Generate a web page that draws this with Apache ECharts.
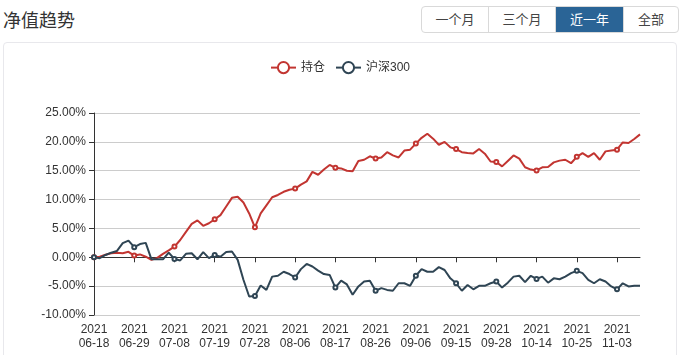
<!DOCTYPE html>
<html>
<head>
<meta charset="utf-8">
<script src="https://cdn.jsdelivr.net/npm/echarts@6/dist/echarts.min.js"></script>
<style>
  html, body { margin: 0; padding: 0; background: #fff; width: 685px; height: 355px; overflow: hidden;
    font-family: "Liberation Sans", "Noto Sans CJK SC", sans-serif; }
  #title { position: absolute; left: 3px; top: 9px; font-size: 18px; color: #333; line-height: 24px; }
  #btns { position: absolute; left: 421px; top: 6px; height: 27px; display: flex; border: 1px solid #d9d9d9; border-radius: 4px; overflow: hidden; box-sizing: border-box; }
  #btns div { height: 25px; line-height: 25px; text-align: center; font-size: 13px; color: #444; border-right: 1px solid #d9d9d9; box-sizing: border-box; }
  #btns div:last-child { border-right: none; }
  #btns div.active { background: #2a6496; color: #fff; }
  #panel { position: absolute; left: 3px; top: 42px; width: 674px; height: 340px; border: 1px solid #e8e8ec; border-radius: 4px; box-sizing: border-box; }
  #chart { position: absolute; left: 0px; top: 0px; width: 672px; height: 312px; }
</style>
</head>
<body>
<div id="title">净值趋势</div>
<div id="btns">
  <div style="width:67px">一个月</div>
  <div style="width:67px">三个月</div>
  <div class="active" style="width:68px">近一年</div>
  <div style="width:54px;border-right:none">全部</div>
</div>
<div id="panel"><div id="chart"></div></div>
<script>
const dates = [
  '2021-06-18','2021-06-21','2021-06-22','2021-06-23','2021-06-24','2021-06-25','2021-06-28','2021-06-29','2021-06-30',
  '2021-07-01','2021-07-02','2021-07-05','2021-07-06','2021-07-07','2021-07-08','2021-07-09','2021-07-12','2021-07-13',
  '2021-07-14','2021-07-15','2021-07-16','2021-07-19','2021-07-20','2021-07-21','2021-07-22','2021-07-23','2021-07-26',
  '2021-07-27','2021-07-28','2021-07-29','2021-07-30',
  '2021-08-02','2021-08-03','2021-08-04','2021-08-05','2021-08-06','2021-08-09','2021-08-10','2021-08-11','2021-08-12',
  '2021-08-13','2021-08-16','2021-08-17','2021-08-18','2021-08-19','2021-08-20','2021-08-23','2021-08-24','2021-08-25',
  '2021-08-26','2021-08-27','2021-08-30','2021-08-31',
  '2021-09-01','2021-09-02','2021-09-03','2021-09-06','2021-09-07','2021-09-08','2021-09-09','2021-09-10','2021-09-13',
  '2021-09-14','2021-09-15','2021-09-16','2021-09-17','2021-09-22','2021-09-23','2021-09-24','2021-09-27','2021-09-28',
  '2021-09-29','2021-09-30',
  '2021-10-08','2021-10-11','2021-10-12','2021-10-13','2021-10-14','2021-10-15','2021-10-18','2021-10-19','2021-10-20',
  '2021-10-21','2021-10-22','2021-10-25','2021-10-26','2021-10-27','2021-10-28','2021-10-29',
  '2021-11-01','2021-11-02','2021-11-03','2021-11-04','2021-11-05','2021-11-08','2021-11-09'
];
const holding = [
  0, 0.1, 0.45, 0.7, 0.8, 0.7, 0.95, 0.3, 0.5, 0.1,
  -0.45, -0.1, 0.6, 1.2, 1.85, 3.0, 4.4, 5.8, 6.4, 5.45,
  5.9, 6.6, 7.3, 8.8, 10.3, 10.5, 9.5, 7.6, 5.2, 7.6,
  9.0, 10.4, 10.8, 11.35, 11.7, 11.9, 12.6, 13.15, 14.8, 14.3,
  15.2, 16.0, 15.5, 15.4, 15.0, 14.9, 16.7, 16.9, 17.5, 17.1,
  17.3, 18.2, 17.65, 17.3, 18.5, 18.65, 19.7, 20.7, 21.4, 20.55,
  19.5, 20.0, 19.05, 18.75, 18.2, 18.05, 18.0, 18.75, 17.95, 16.6,
  16.5, 15.75, 16.7, 17.65, 17.1, 15.6, 15.2, 15.05, 15.6, 15.65,
  16.45, 16.75, 16.9, 16.3, 17.4, 18.05, 17.4, 18.05, 16.9, 18.35,
  18.5, 18.65, 19.9, 19.8, 20.5, 21.3
];
const hs300 = [
  0, -0.15, 0.4, 0.8, 1.1, 2.45, 2.9, 1.75, 2.3, 2.5,
  -0.35, -0.35, -0.35, 0.8, -0.3, -0.55, 0.6, 0.7, -0.35, 0.9,
  -0.15, 0.4, 0.1, 0.9, 1.0, -0.45, -3.9, -6.8, -6.7, -4.9,
  -5.65, -3.35, -3.2, -2.5, -2.9, -3.5, -2.05, -1.15, -1.6, -2.3,
  -2.9, -3.05, -5.25, -4.05, -4.7, -6.5, -5.05, -4.2, -4.05, -5.8,
  -5.35, -5.65, -5.8, -4.5, -4.5, -4.95, -3.2, -2.05, -2.5, -2.5,
  -1.7, -2.2, -3.65, -4.5, -5.8, -4.8, -5.55, -4.95, -4.95, -4.5,
  -4.2, -5.25, -4.4, -3.35, -3.2, -4.3, -3.2, -3.75, -3.35, -4.4,
  -3.65, -3.8, -3.35, -2.75, -2.35, -2.75, -3.9, -4.5, -3.8, -4.2,
  -5.05, -5.55, -4.5, -5.05, -4.95, -4.95
];
const seriesNames = ['持仓', '沪深300'];
const seriesColors = ['#c23531', '#2f4554'];

const font = '"Liberation Sans", "Noto Sans CJK SC", sans-serif';
const chart = echarts.init(document.getElementById('chart'), null, { renderer: 'canvas' });
chart.setOption({
  animation: false,
  color: seriesColors,
  textStyle: { fontFamily: font },
  legend: {
    top: 13,
    left: 'center',
    itemWidth: 25,
    itemHeight: 14,
    itemGap: 10,
    textStyle: { fontSize: 12, color: '#333', fontFamily: font },
    data: seriesNames
  },
  grid: { left: 90, right: 36, top: 70, bottom: 40, containLabel: false, outerBoundsMode: 'none' },
  xAxis: {
    type: 'category',
    data: dates,
    boundaryGap: false,
    axisLine: { onZero: true, lineStyle: { color: '#333', width: 1 } },
    axisTick: { show: true, interval: 6, lineStyle: { color: '#333' } },
    axisLabel: {
      interval: 6,
      color: '#333',
      fontSize: 12,
      fontFamily: font,
      lineHeight: 14,
      formatter: function (v) { const p = v.split('-'); return p[0] + '\n' + p[1] + '-' + p[2]; }
    },
    splitLine: { show: false }
  },
  yAxis: {
    type: 'value',
    min: -10,
    max: 25,
    interval: 5,
    axisLine: { show: true, lineStyle: { color: '#333' } },
    axisTick: { show: true, lineStyle: { color: '#333' } },
    axisLabel: { color: '#333', fontSize: 12, fontFamily: font, formatter: function (v) { return v.toFixed(2) + '%'; } },
    splitLine: { show: true, lineStyle: { color: '#ccc' } }
  },
  series: [
    { name: seriesNames[0], type: 'line', data: holding, smooth: false, symbol: 'emptyCircle', symbolSize: 4,
      lineStyle: { width: 2, color: seriesColors[0] }, itemStyle: { color: seriesColors[0], borderWidth: 1 } },
    { name: seriesNames[1], type: 'line', data: hs300, smooth: false, symbol: 'emptyCircle', symbolSize: 4,
      lineStyle: { width: 2, color: seriesColors[1] }, itemStyle: { color: seriesColors[1], borderWidth: 1 } }
  ]
});
</script>
</body>
</html>
